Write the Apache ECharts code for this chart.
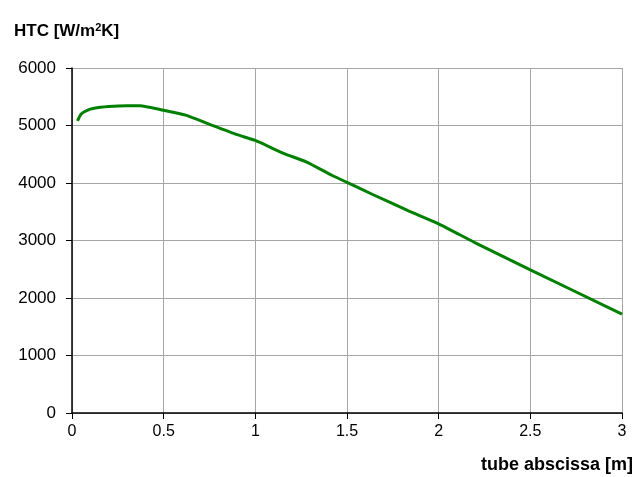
<!DOCTYPE html>
<html>
<head>
<meta charset="utf-8">
<title>HTC along the tube</title>
<script src="https://cdn.jsdelivr.net/npm/echarts@6/dist/echarts.min.js"></script>
<style>
  html, body { margin: 0; padding: 0; background: #ffffff; }
  #chart { width: 638px; height: 477px; }
</style>
</head>
<body>
<div id="chart"></div>
<script>
// Position along the tube [m]
const abscissa = [0.03, 0.05, 0.08, 0.12, 0.2, 0.3, 0.37, 0.5, 0.62, 0.75, 0.9, 1.0,
                  1.15, 1.28, 1.42, 1.5, 1.64, 1.83, 2.0, 2.2, 2.5, 3.0];
// Heat transfer coefficient [W/m2K]
const htc = [5080, 5200, 5260, 5300, 5330, 5345, 5345, 5265, 5180, 5020, 4840, 4740,
             4520, 4365, 4130, 4010, 3800, 3525, 3290, 2960, 2490, 1720];

const xTicks = [0, 0.5, 1, 1.5, 2, 2.5, 3];
const yTicks = [0, 1000, 2000, 3000, 4000, 5000, 6000];

const font = 'Liberation Sans, Arial, sans-serif';

const chart = echarts.init(document.getElementById('chart'), null, { renderer: 'canvas' });

chart.setOption({
  backgroundColor: '#ffffff',
  animation: false,
  title: {
    text: 'HTC [W/m{sup|2}K]',
    left: 9,
    top: 17,
    textStyle: {
      fontFamily: font,
      fontSize: 17,
      fontWeight: 'bold',
      color: '#000000',
      rich: {
        sup: {
          fontFamily: font,
          fontSize: 11,
          fontWeight: 'bold',
          color: '#000000',
          verticalAlign: 'top',
          padding: [0, 0, 8, 0]
        }
      }
    }
  },
  // x-axis caption, right-aligned under the tick labels
  graphic: [{
    type: 'text',
    right: 5,
    top: 456,
    style: {
      text: 'tube abscissa [m]',
      fontFamily: font,
      fontSize: 18,
      fontWeight: 'bold',
      fill: '#000000'
    }
  }],
  grid: {
    left: 72,
    right: 16,
    top: 68,
    bottom: 64,
    containLabel: false
  },
  xAxis: {
    type: 'value',
    min: xTicks[0],
    max: xTicks[xTicks.length - 1],
    interval: 0.5,
    axisLine: { show: true, onZero: false, lineStyle: { color: '#000000', width: 1.5 } },
    axisTick: { show: true, inside: false, length: 6, lineStyle: { color: '#000000', width: 1 } },
    axisLabel: {
      fontFamily: font,
      fontSize: 16,
      color: '#000000',
      margin: 11,
      formatter: v => String(v)
    },
    splitLine: { show: true, lineStyle: { color: '#a6a6a6', width: 1 } }
  },
  yAxis: {
    type: 'value',
    min: yTicks[0],
    max: yTicks[yTicks.length - 1],
    interval: 1000,
    axisLine: { show: true, onZero: false, lineStyle: { color: '#000000', width: 1.5 } },
    axisTick: { show: true, inside: false, length: 6, lineStyle: { color: '#000000', width: 1 } },
    axisLabel: {
      fontFamily: font,
      fontSize: 17,
      color: '#000000',
      margin: 16,
      formatter: v => String(v)
    },
    splitLine: { show: true, lineStyle: { color: '#a6a6a6', width: 1 } }
  },
  series: [{
    type: 'line',
    data: abscissa.map((x, i) => [x, htc[i]]),
    smooth: 0.2,
    showSymbol: false,
    lineStyle: { color: '#008000', width: 3 },
    itemStyle: { color: '#008000' }
  }]
});
</script>
</body>
</html>
